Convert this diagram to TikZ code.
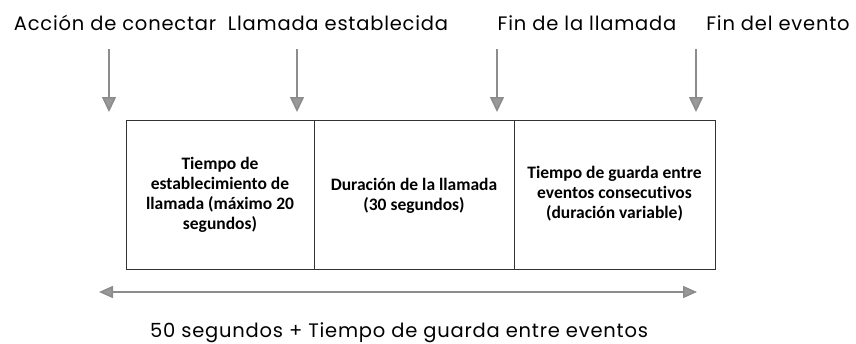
\documentclass[tikz,border=0pt]{standalone}
\usepackage{fontspec}
\setmainfont{Poppins}[LetterSpace=4]
\newfontfamily\boxfont{Carlito}[Ligatures=NoCommon]
\usetikzlibrary{arrows.meta}
\begin{document}
\begin{tikzpicture}[x=1pt,y=-1pt,
  toplabel/.style={font=\fontsize{19.5}{22}\selectfont, anchor=base, inner sep=0pt},
  cell/.style={draw=black!80, line width=0.9pt, minimum height=149pt, inner sep=0pt},
  celltext/.style={font=\boxfont\bfseries\fontsize{17.5}{20}\selectfont, align=center, anchor=north, inner sep=0pt},
  marker/.style={draw=black!45, line width=1.6pt, -{Triangle[width=14pt,length=15pt,fill=black!40]}},
  span/.style={draw=black!45, line width=1.6pt, {Triangle[width=12pt,length=14pt,fill=black!40]}-{Triangle[width=12pt,length=14pt,fill=black!40]}}]
\useasboundingbox (0,0) rectangle (856,343);
% top labels
\node[toplabel] (l1) at (115,30) {Acción de conectar};
\node[toplabel] (l2) at (338,30) {Llamada establecida};
\node[toplabel] (l3) at (587,30) {Fin de la llamada};
\node[toplabel] (l4) at (778,30) {Fin del evento};
% arrow coordinates
\coordinate (a1) at (109,49);
\coordinate (a2) at (297,49);
\coordinate (a3) at (497,49);
\coordinate (a4) at (696,49);
\coordinate (b1) at (109,112);
\coordinate (b2) at (297,112);
\coordinate (b3) at (497,112);
\coordinate (b4) at (696,112);
\draw[marker] (a1) -- (b1);
\draw[marker] (a2) -- (b2);
\draw[marker] (a3) -- (b3);
\draw[marker] (a4) -- (b4);
% cells
\node[cell, minimum width=188pt] (c1) at (220,194.5) {};
\node[cell, minimum width=200pt] (c2) at (414,194.5) {};
\node[cell, minimum width=201pt] (c3) at (614.5,194.5) {};
\node[celltext] (t1) at (220,157.5) {Tiempo de\\establecimiento de\\llamada (máximo 20\\segundos)};
\node[celltext] (t2) at (414,178) {Duración de la llamada\\(30 segundos)};
\node[celltext] (t3) at (614.5,166) {Tiempo de guarda entre\\eventos consecutivos\\(duración variable)};
% span arrow
\coordinate (s1) at (99,292);
\coordinate (s2) at (697,292);
\draw[span] (s1) -- (s2);
\node[toplabel] (bl) at (399,337) {50 segundos + Tiempo de guarda entre eventos};
\end{tikzpicture}
\end{document}
